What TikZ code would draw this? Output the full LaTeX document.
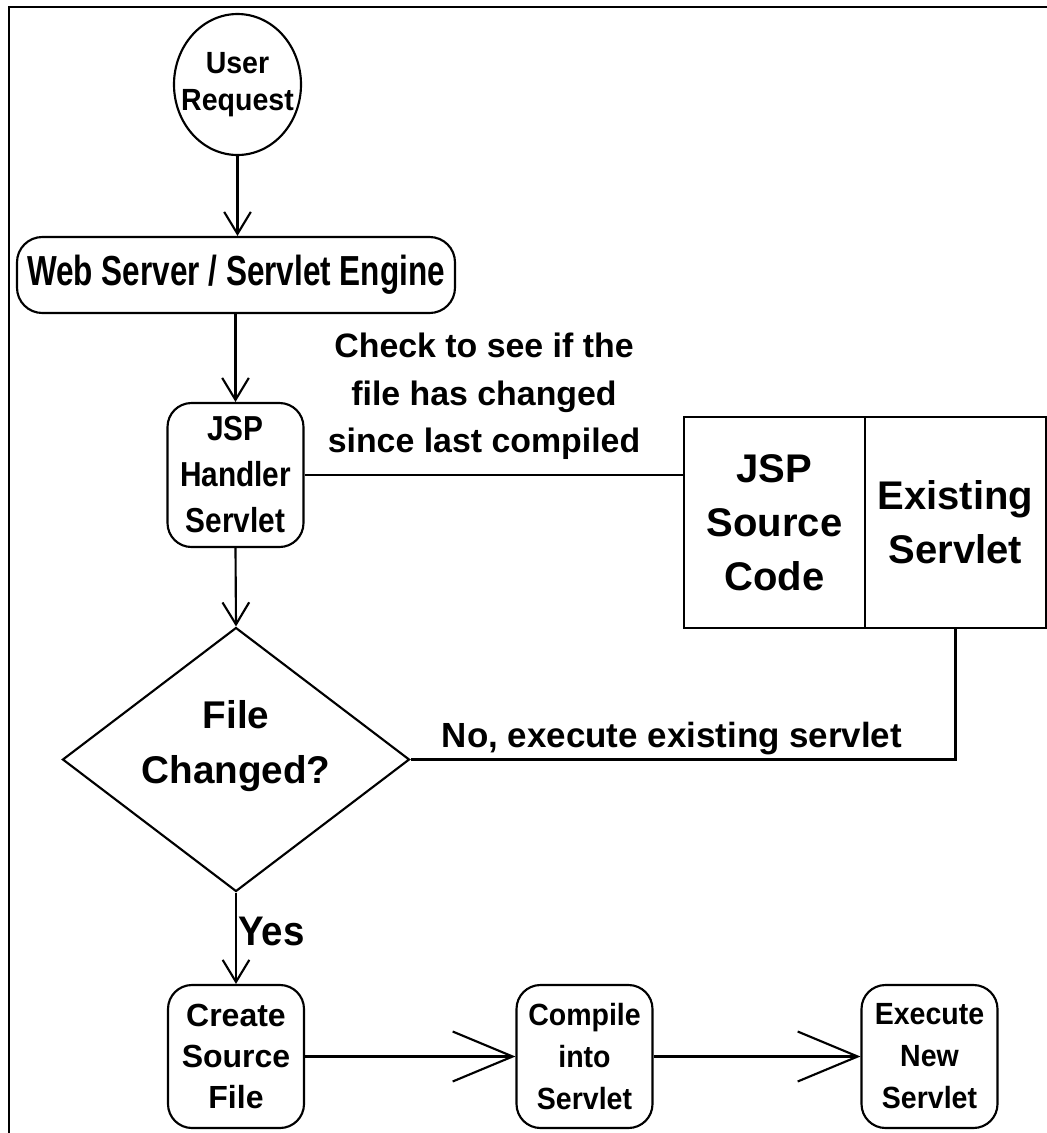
\documentclass[tikz,border=0pt]{standalone}
\usepackage{fontspec}
\setmainfont{Liberation Sans}
\newfontfamily\condA[FakeStretch=0.75]{Liberation Sans}
\newfontfamily\condB[FakeStretch=0.86]{Liberation Sans}
\newfontfamily\condC[FakeStretch=0.93]{Liberation Sans}
\usetikzlibrary{shapes.geometric,arrows.meta}
\begin{document}
\begin{tikzpicture}[x=0.75pt,y=-0.75pt,
  ln/.style={line width=1.6pt, line join=miter},
  arr/.style={ln, -{Straight Barb[length=16.5pt, width=20pt, line width=1.6pt]}},
  bigarr/.style={ln, -{Straight Barb[length=45pt, width=37.5pt, line width=1.6pt]}},
  rbox/.style={draw, line width=1.6pt, rounded corners=18pt, minimum width=102pt,
    minimum height=107.25pt, inner sep=0pt, align=center,
    font=\condC\bfseries\fontsize{23}{31.5}\selectfont},
  sqbox/.style={draw, line width=1.6pt, minimum width=135.75pt, minimum height=158.25pt,
    inner sep=0pt, align=center, font=\bfseries\fontsize{30}{40.5}\selectfont},
  lbl/.style={inner sep=0pt, align=center, font=\bfseries\fontsize{25.4}{35.6}\selectfont}]
\useasboundingbox (0,0) rectangle (1047,1133);
\draw[line width=2pt] (9,1140) -- (9,7) -- (1050,7);

\node[draw, ellipse, line width=1.6pt, minimum width=95.25pt, minimum height=105.75pt, inner sep=0pt,
  label={[font=\condC\bfseries\fontsize{23}{28}\selectfont, align=center]center:User\\Request}]
  (user) at (237.5,84.5) {};
\node[draw, line width=1.6pt, rounded corners=19pt, minimum width=328.5pt, minimum height=57pt, inner sep=0pt,
  font=\condA\bfseries\fontsize{31.5}{36}\selectfont] (web) at (236,275) {Web Server / Servlet Engine};
\node[rbox, minimum height=108pt, font=\condB\bfseries\fontsize{26}{34.5}\selectfont] (handler) at (235.5,475) {JSP\\Handler\\Servlet};
\node[sqbox] (src) at (774.5,522.5) {JSP\\Source\\Code};
\node[sqbox] (exist) at (955.5,522.5) {Existing\\Servlet};
\node[draw, diamond, line width=1.6pt, minimum width=260.25pt, minimum height=198pt, inner sep=0pt] (chg) at (236,759.5) {};
\node[inner sep=0pt, align=center, font=\bfseries\fontsize{29}{41}\selectfont] (chgtext) at (236,746) {File\\Changed?};
\node[rbox, font=\bfseries\fontsize{24}{31}\selectfont] (create) at (236,1056.5) {Create\\Source\\File};
\node[rbox] (compile) at (584.5,1056.5) {Compile\\into\\Servlet};
\node[rbox] (execute) at (929.5,1056.5) {Execute\\New\\Servlet};

\node[lbl, anchor=north] (check) at (484,333) {Check to see if the\\file has changed\\since last compiled};
\node[lbl, anchor=base, font=\bfseries\fontsize{26.2}{30}\selectfont] (nolbl) at (672,747) {No, execute existing servlet};
\node[inner sep=0pt, anchor=base west, font=\condC\bfseries\fontsize{31}{36}\selectfont] (yes) at (238,945) {Yes};

\draw[arr] (user.south) -- (user.south |- web.north);
\draw[arr] (handler.north |- web.south) -- (handler.north);
\draw[ln] (handler.east) -- (handler.east -| src.west);
\draw[arr] (handler.south) -- (chg.north);
\draw[ln] (exist.south) |- (chg.east);
\draw[arr] (chg.south) -- (create.north);
\draw[bigarr] (create.east) -- (compile.west);
\draw[bigarr] (compile.east) -- (execute.west);
\end{tikzpicture}
\end{document}
